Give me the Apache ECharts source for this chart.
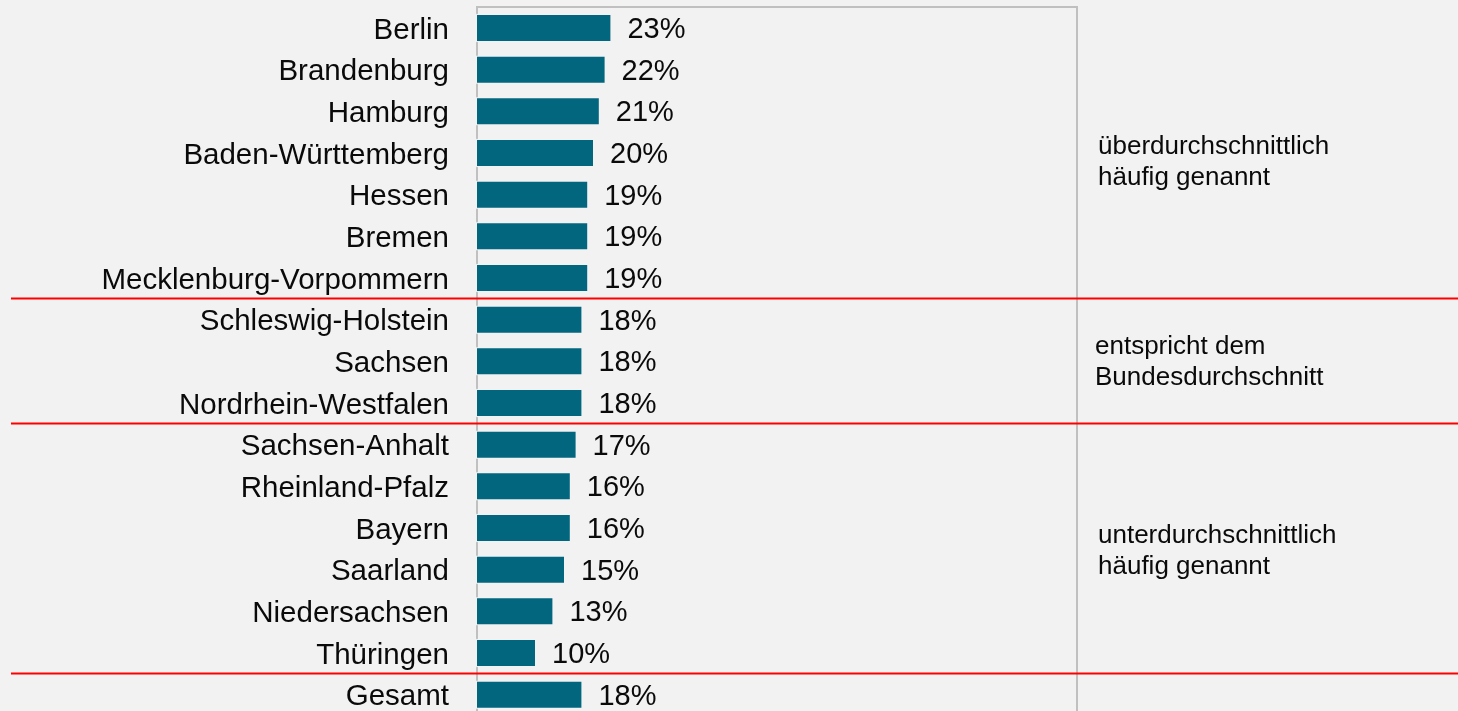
<!DOCTYPE html>
<html>
<head>
<meta charset="utf-8">
<title>Bundesländer</title>
<script src="https://cdn.jsdelivr.net/npm/echarts@6/dist/echarts.min.js"></script>
<style>
  html, body { margin: 0; padding: 0; background: #f2f2f2; }
  #chart { width: 1458px; height: 711px; }
</style>
</head>
<body>
<div id="chart"></div>
<script>
// States, ordered top to bottom, with the overall figure last
const categories = [
  'Berlin', 'Brandenburg', 'Hamburg', 'Baden-Württemberg', 'Hessen', 'Bremen',
  'Mecklenburg-Vorpommern', 'Schleswig-Holstein', 'Sachsen', 'Nordrhein-Westfalen',
  'Sachsen-Anhalt', 'Rheinland-Pfalz', 'Bayern', 'Saarland', 'Niedersachsen',
  'Thüringen', 'Gesamt'
];
// Share in percent
const values = [23, 22, 21, 20, 19, 19, 19, 18, 18, 18, 17, 16, 16, 15, 13, 10, 18];
// Index of the last row in each group (a red rule follows it)
const groupEnds = [6, 9, 15];
// Group descriptions shown on the right
const groupNotes = [
  'überdurchschnittlich\nhäufig genannt',
  'entspricht dem\nBundesdurchschnitt',
  'unterdurchschnittlich\nhäufig genannt'
];

const FONT = '"Liberation Sans", Arial, Helvetica, sans-serif';
const TEXT = '#0a0a0a';
const BAR = '#02667f';
const GREY = '#c0c0c0';

const chart = echarts.init(document.getElementById('chart'), null, { renderer: 'canvas' });

const band = 708.3 / categories.length;
const barH = 26;
const gap = band - barH;

chart.setOption({
  backgroundColor: '#f2f2f2',
  animation: false,
  grid: {
    left: 477, top: 7.2, width: 580, height: 708.3,
    containLabel: false,
    outerBoundsMode: 'none'
  },
  xAxis: {
    type: 'value', min: 0, max: 100,
    show: false
  },
  yAxis: {
    type: 'category',
    data: categories,
    inverse: true,
    offset: 1.5,
    axisTick: { show: false },
    axisLine: {
      show: true,
      lineStyle: { color: GREY, width: 2, type: [gap - 3.5, barH + 3.5], dashOffset: (gap - 3.5) / 2 }
    },
    axisLabel: {
      margin: 26.5,
      fontSize: 29.5,
      fontFamily: FONT,
      color: TEXT,
      formatter: '{n|{value}}',
      rich: {
        n: {
          fontSize: 29.5,
          fontFamily: FONT,
          color: TEXT,
          padding: [5, 0, 0, 0]
        }
      }
    }
  },
  series: [{
    type: 'bar',
    data: values,
    barWidth: barH,
    itemStyle: { color: BAR },
    label: {
      show: true,
      position: 'right',
      distance: 17,
      offset: [0, 2],
      formatter: '{c}%',
      fontSize: 29,
      fontFamily: FONT,
      color: TEXT
    }
  }]
});

// Frame, group rules and group notes
const yOf = (i) => chart.convertToPixel({ yAxisIndex: 0 }, categories[i]);
const graphics = [];

graphics.push({
  type: 'polyline',
  shape: { points: [[476, 7], [1077, 7], [1077, 711]] },
  style: { stroke: GREY, lineWidth: 2, fill: null },
  silent: true
});

groupEnds.forEach((i) => {
  const y = Math.round((yOf(i) + yOf(i + 1)) / 2) - 0.5;
  graphics.push({
    type: 'line',
    shape: { x1: 11, y1: y, x2: 1458, y2: y },
    style: { stroke: '#ff0000', lineWidth: 2 },
    z: 10,
    silent: true
  });
});

const noteY = [162, 362, 551];
const noteX = [1098, 1095, 1098];
groupNotes.forEach((t, k) => {
  graphics.push({
    type: 'text',
    x: noteX[k],
    y: noteY[k],
    style: {
      text: t,
      font: '26px ' + FONT,
      fill: TEXT,
      lineHeight: 31,
      verticalAlign: 'middle',
      align: 'left'
    },
    silent: true
  });
});

chart.setOption({ graphic: graphics });
</script>
</body>
</html>
